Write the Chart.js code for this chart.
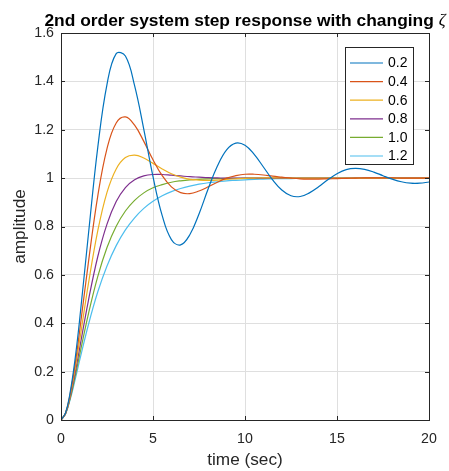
<!DOCTYPE html>
<html>
<head>
<meta charset="utf-8">
<script src="https://cdn.jsdelivr.net/npm/chart.js@4"></script>
<style>
    html, body { margin: 0; padding: 0; background: #fff; }
    canvas { display: block; }
</style>
</head>
<body>
<canvas id="stepChart" width="449" height="471"></canvas>
<script>
// Time samples (sec), a bit denser during the first second
const time = [0, 0.25, 0.5, 0.75, 1, 1.5, 2, 2.5, 3, 3.5, 4, 4.5, 5, 5.5, 6, 6.5, 7, 7.5, 8, 8.5, 9, 9.5, 10,
    10.5, 11, 11.5, 12, 12.5, 13, 13.5, 14, 14.5, 15, 15.5, 16, 16.5, 17, 17.5, 18, 18.5, 19, 19.5, 20];

// Step response, one array per damping ratio
const zeta02 = [0, 0.030, 0.115, 0.243, 0.405, 0.775, 1.128, 1.388, 1.515, 1.505, 1.382, 1.202, 1.006, 0.845, 0.746, 0.724,
    0.766, 0.852, 0.956, 1.050, 1.117, 1.145, 1.136, 1.098, 1.046, 0.993, 0.951, 0.927, 0.924, 0.939, 0.964,
    0.993, 1.018, 1.035, 1.040, 1.036, 1.025, 1.010, 0.996, 0.985, 0.979, 0.979, 0.984];
const zeta04 = [0, 0.029, 0.108, 0.222, 0.360, 0.658, 0.927, 1.122, 1.228, 1.253, 1.219, 1.152, 1.076, 1.010, 0.964, 0.940,
    0.936, 0.947, 0.964, 0.983, 1.000, 1.010, 1.016, 1.016, 1.013, 1.008, 1.004, 1.000, 0.997, 0.996, 0.996,
    0.997, 0.998, 0.999, 1.000, 1.001, 1.001, 1.001, 1.001, 1.000, 1.000, 1.000, 1.000];
const zeta06 = [0, 0.028, 0.101, 0.204, 0.322, 0.568, 0.783, 0.941, 1.038, 1.085, 1.095, 1.083, 1.061, 1.038, 1.018, 1.004,
    0.995, 0.992, 0.991, 0.992, 0.995, 0.997, 0.999, 1.000, 1.001, 1.001, 1.001, 1.000, 1.000, 1.000, 1.000,
    1.000, 1.000, 1.000, 1.000, 1.000, 1.000, 1.000, 1.000, 1.000, 1.000, 1.000, 1.000];
const zeta08 = [0, 0.027, 0.096, 0.188, 0.291, 0.498, 0.676, 0.810, 0.903, 0.961, 0.993, 1.009, 1.015, 1.015, 1.012, 1.009,
    1.006, 1.004, 1.002, 1.001, 1.000, 1.000, 1.000, 1.000, 1.000, 1.000, 1.000, 1.000, 1.000, 1.000, 1.000,
    1.000, 1.000, 1.000, 1.000, 1.000, 1.000, 1.000, 1.000, 1.000, 1.000, 1.000, 1.000];
const zeta10 = [0, 0.027, 0.090, 0.173, 0.264, 0.442, 0.594, 0.713, 0.801, 0.864, 0.908, 0.939, 0.960, 0.973, 0.983, 0.989,
    0.993, 0.995, 0.997, 0.998, 0.999, 0.999, 1.000, 1.000, 1.000, 1.000, 1.000, 1.000, 1.000, 1.000, 1.000,
    1.000, 1.000, 1.000, 1.000, 1.000, 1.000, 1.000, 1.000, 1.000, 1.000, 1.000, 1.000];
const zeta12 = [0, 0.026, 0.085, 0.161, 0.242, 0.397, 0.530, 0.637, 0.721, 0.786, 0.836, 0.875, 0.904, 0.927, 0.944, 0.957,
    0.967, 0.975, 0.981, 0.985, 0.989, 0.991, 0.993, 0.995, 0.996, 0.997, 0.998, 0.998, 0.999, 0.999, 0.999,
    1.000, 1.000, 1.000, 1.000, 1.000, 1.000, 1.000, 1.000, 1.000, 1.000, 1.000, 1.000];

const seriesLabels = ['0.2', '0.4', '0.6', '0.8', '1.0', '1.2'];
const xTicks = [0, 5, 10, 15, 20];
const yTicks = [0, 0.2, 0.4, 0.6, 0.8, 1, 1.2, 1.4, 1.6];

const FONT = "'Liberation Sans', Arial, Helvetica, sans-serif";
const AXIS_COLOR = '#262626';
const GRID_COLOR = '#dfdfdf';
const lineColors = ['#0072BD', '#D95319', '#EDB120', '#7E2F8E', '#77AC30', '#4DBEEE'];

const allSeries = [zeta02, zeta04, zeta06, zeta08, zeta10, zeta12];

// box round the plot + inward tick marks on all four sides (matlab style)
const axesBox = {
    id: 'axesBox',
    afterDatasetsDraw(chart) {
        const { ctx, chartArea: a, scales } = chart;
        const len = 4;
        ctx.save();
        ctx.strokeStyle = AXIS_COLOR;
        ctx.lineWidth = 1;
        ctx.beginPath();
        xTicks.forEach(v => {
            const x = Math.round(scales.x.getPixelForValue(v)) + 0.5;
            ctx.moveTo(x, a.bottom); ctx.lineTo(x, a.bottom - len);
            ctx.moveTo(x, a.top); ctx.lineTo(x, a.top + len);
        });
        yTicks.forEach(v => {
            const y = Math.round(scales.y.getPixelForValue(v)) + 0.5;
            ctx.moveTo(a.left, y); ctx.lineTo(a.left + len, y);
            ctx.moveTo(a.right, y); ctx.lineTo(a.right - len, y);
        });
        ctx.stroke();
        ctx.strokeRect(Math.round(a.left) + 0.5, Math.round(a.top) + 0.5,
            Math.round(a.right - a.left), Math.round(a.bottom - a.top));
        ctx.restore();
    }
};

// legend box inside the top right corner
const insideLegend = {
    id: 'insideLegend',
    afterDraw(chart) {
        const ctx = chart.ctx;
        const bx = 345.5, by = 47.5, bw = 68, bh = 117;
        ctx.save();
        ctx.fillStyle = '#fff';
        ctx.fillRect(bx, by, bw, bh);
        ctx.strokeStyle = AXIS_COLOR;
        ctx.lineWidth = 1;
        ctx.strokeRect(bx, by, bw, bh);
        ctx.font = '14px ' + FONT;
        ctx.textBaseline = 'middle';
        ctx.textAlign = 'left';
        chart.data.datasets.forEach((ds, i) => {
            const y = 63 + i * 18.6;
            ctx.strokeStyle = ds.borderColor;
            ctx.lineWidth = 1.2;
            ctx.beginPath();
            ctx.moveTo(350, y); ctx.lineTo(383, y);
            ctx.stroke();
            ctx.fillStyle = '#000';
            ctx.fillText(ds.label, 388, y + 0.5);
        });
        ctx.restore();
    }
};

// title centred over the plot area, zeta in plain weight
const plotTitle = {
    id: 'plotTitle',
    afterDraw(chart) {
        const ctx = chart.ctx;
        const a = chart.chartArea;
        const main = '2nd order system step response with changing ';
        const sym = 'ζ';
        const mainFont = 'bold 17.4px ' + FONT;
        const symFont = 'italic 17px serif';
        ctx.save();
        ctx.fillStyle = '#000';
        ctx.textBaseline = 'alphabetic';
        ctx.textAlign = 'left';
        ctx.font = mainFont;
        const w1 = ctx.measureText(main).width;
        ctx.font = symFont;
        const w2 = ctx.measureText(sym).width;
        const x0 = (a.left + a.right) / 2 - (w1 + w2) / 2;
        ctx.font = mainFont;
        ctx.fillText(main, x0, 26);
        ctx.font = symFont;
        ctx.fillText(sym, x0 + w1, 25);
        ctx.restore();
    }
};

const tickFont = { family: FONT, size: 14.2 };
const titleFont = { family: FONT, size: 17.2 };

new Chart(document.getElementById('stepChart'), {
    type: 'line',
    data: {
        datasets: allSeries.map((s, i) => ({
            label: seriesLabels[i],
            data: s.map((v, j) => ({ x: time[j], y: v })),
            borderColor: lineColors[i],
            borderWidth: 1.2,
            pointRadius: 0,
            tension: 0.4,
            fill: false
        }))
    },
    options: {
        responsive: false,
        animation: false,
        devicePixelRatio: 1,
        layout: { padding: { top: 33, right: 20, bottom: 0, left: 0 } },
        plugins: {
            legend: { display: false },
            title: { display: false },
            tooltip: { enabled: false }
        },
        scales: {
            x: {
                type: 'linear',
                min: 0,
                max: 20,
                afterBuildTicks: s => { s.ticks = xTicks.map(v => ({ value: v })); },
                afterFit: s => { s.height = 51; },
                grid: { color: GRID_COLOR, drawTicks: false },
                border: { color: AXIS_COLOR },
                ticks: { padding: 11, color: AXIS_COLOR, font: tickFont, maxRotation: 0, autoSkip: false },
                title: { display: true, text: 'time (sec)', color: AXIS_COLOR, font: titleFont, padding: { top: 0, bottom: 0 } }
            },
            y: {
                min: 0,
                max: 1.6,
                afterBuildTicks: s => { s.ticks = yTicks.map(v => ({ value: v })); },
                afterFit: s => { s.width = 61; },
                grid: { color: GRID_COLOR, drawTicks: false },
                border: { color: AXIS_COLOR },
                ticks: {
                    padding: 7, color: AXIS_COLOR, font: tickFont, autoSkip: false,
                    callback: v => String(+v.toFixed(2))
                },
                title: { display: true, text: 'amplitude', color: AXIS_COLOR, font: titleFont, padding: { top: 9.5, bottom: 0 } }
            }
        }
    },
    plugins: [axesBox, insideLegend, plotTitle]
});
</script>
</body>
</html>
